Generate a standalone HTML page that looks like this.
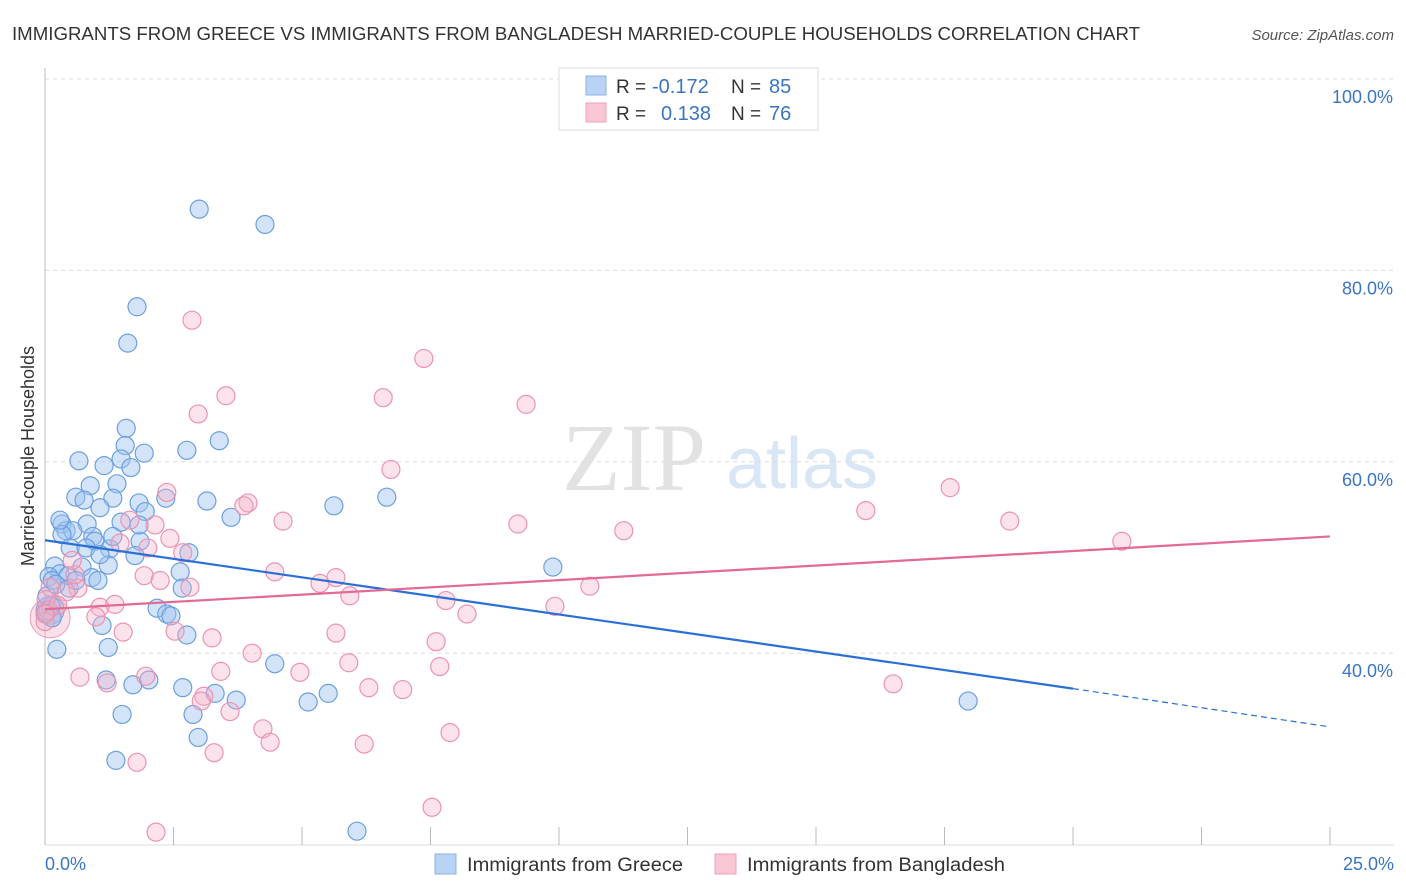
<!DOCTYPE html>
<html><head><meta charset="utf-8"><style>
body{margin:0;background:#fff;font-family:"Liberation Sans",sans-serif;}
#wrap{position:relative;width:1406px;height:892px;overflow:hidden}
</style></head><body>
<div id="wrap">
<svg id="svg" width="1406" height="892" xmlns="http://www.w3.org/2000/svg">
<text x="12" y="40" font-size="18" fill="#333" textLength="1128" lengthAdjust="spacingAndGlyphs">IMMIGRANTS FROM GREECE VS IMMIGRANTS FROM BANGLADESH MARRIED-COUPLE HOUSEHOLDS CORRELATION CHART</text>
<text x="1394" y="40" font-size="15" fill="#555" font-style="italic" text-anchor="end">Source: ZipAtlas.com</text>
<g>
<text x="634" y="490" font-size="96" fill="#e2e2e2" font-family="Liberation Serif" text-anchor="middle">ZIP</text>
<text x="802" y="488" font-size="72" fill="#d9e6f5" text-anchor="middle">atlas</text>
</g>
<g id="grid"></g>
<g id="pts"></g>
<g id="trend"></g>
<text x="34" y="456" font-size="18" fill="#333" transform="rotate(-90 34 456)" text-anchor="middle">Married-couple Households</text>
<text x="45" y="870" font-size="18" fill="#3a75c4">0.0%</text>
<text x="1394" y="870" font-size="18" fill="#3a75c4" text-anchor="end">25.0%</text>
<g>
<rect x="559" y="68" width="259" height="62" fill="#fff" stroke="#ddd"/>
<rect x="586" y="76" width="20" height="19" fill="#b8d3f4" stroke="#8ab0e0"/>
<rect x="586" y="103" width="20" height="19" fill="#f9c6d5" stroke="#eea3bb"/>
<text x="616" y="93" font-size="19" fill="#333">R =</text>
<text x="652" y="93" font-size="20" fill="#3a75c4">-0.172</text>
<text x="731" y="93" font-size="19" fill="#333">N =</text>
<text x="769" y="93" font-size="20" fill="#3a75c4">85</text>
<text x="616" y="120" font-size="19" fill="#333">R =</text>
<text x="661" y="120" font-size="20" fill="#3a75c4">0.138</text>
<text x="731" y="120" font-size="19" fill="#333">N =</text>
<text x="769" y="120" font-size="20" fill="#3a75c4">76</text>
</g>
<g>
<rect x="435" y="854" width="21" height="20" fill="#b8d3f4" stroke="#8ab0e0"/>
<text x="467" y="871" font-size="19" fill="#333" textLength="216" lengthAdjust="spacingAndGlyphs">Immigrants from Greece</text>
<rect x="715" y="854" width="21" height="20" fill="#f9c6d5" stroke="#eea3bb"/>
<text x="747" y="871" font-size="19" fill="#333" textLength="258" lengthAdjust="spacingAndGlyphs">Immigrants from Bangladesh</text>
</g>
</svg>
</div>
<script>
const yTicks=[40,60,80,100];
const yTickLabels=["40.0%","60.0%","80.0%","100.0%"];
const xTicks=[2.5,5,7.5,10,12.5,15,17.5,20,22.5,25];
const greeceX=[3.0,4.28,1.79,1.61,3.39,2.76,1.58,1.56,1.93,1.48,1.67,0.66,1.15,0.88,1.40,0.60,1.32,1.83,1.07,1.95,2.35,3.15,3.62,5.62,6.65,0.33,0.82,0.41,0.54,0.93,0.33,0.97,0.49,0.80,1.26,1.85,1.75,2.80,1.23,0.72,0.19,0.29,0.08,0.45,0.91,1.03,0.14,0.47,2.63,2.67,0.12,0.02,0.14,0.23,1.11,1.23,2.18,2.37,2.45,2.76,4.47,9.88,17.96,1.19,1.71,2.02,2.68,3.31,3.72,5.12,5.51,2.88,1.50,2.98,1.38,6.07,0.04,0.21,0.60,1.48,1.83,1.32,1.07,0.29,0.76];
const greeceY=[86.4,84.8,76.2,72.4,62.2,61.2,63.5,61.7,60.9,60.3,59.4,60.1,59.6,57.5,57.7,56.3,56.2,55.7,55.2,54.8,56.2,55.9,54.2,55.4,56.3,53.5,53.5,52.8,52.8,52.2,52.4,51.7,51.0,51.0,50.9,51.7,50.2,50.5,49.2,49.0,49.1,48.3,48.0,48.1,47.9,47.6,47.6,46.8,48.5,46.8,44.9,44.3,43.7,40.4,42.9,40.6,44.7,44.1,43.9,41.9,38.9,49.0,35.0,37.2,36.7,37.2,36.4,35.8,35.1,34.9,35.8,33.6,33.6,31.2,28.8,21.4,46.0,47.2,47.6,53.7,53.4,52.2,50.3,53.9,56.0];
const bangX=[2.86,7.37,3.52,2.98,6.58,9.36,6.73,2.37,3.95,3.87,1.65,4.63,2.14,9.20,11.26,15.97,17.61,18.77,20.95,2.43,2.00,1.46,2.68,4.47,5.35,5.66,5.93,7.80,8.21,9.92,10.60,1.93,2.24,2.82,0.10,0.64,0.41,0.02,0.06,0.25,1.07,1.36,0.99,0.0,1.52,2.53,3.25,5.66,7.61,4.03,5.91,7.68,4.96,3.42,1.96,0.68,1.21,3.09,3.60,6.30,6.96,4.24,4.38,7.88,6.21,3.29,1.79,2.16,7.53,16.50,0.0,0.58,0.53,3.04];
const bangY=[74.8,70.8,66.9,65.0,66.7,66.0,59.2,56.8,55.7,55.4,53.9,53.8,53.4,53.5,52.8,54.9,57.3,53.8,51.7,52.0,51.0,51.5,50.5,48.5,47.3,47.9,46.0,45.5,44.1,44.9,47.0,48.1,47.6,46.9,46.9,46.8,46.4,45.6,44.5,45.0,44.8,45.1,43.8,43.3,42.2,42.3,41.6,42.1,41.2,40.0,39.0,38.6,38.0,38.1,37.6,37.5,36.9,35.5,33.9,36.4,36.2,32.1,30.7,31.7,30.5,29.6,28.6,21.3,23.9,36.8,44.1,48.2,49.7,35.0];
const greeceTrend=[[0,51.8],[20,36.3],[25,32.3]];
const bangTrend=[[0,44.6],[25,52.2]];
const NS="http://www.w3.org/2000/svg";
const X=v=>45+v*(1285/25);
const Y=v=>1036-v*9.57;
function mk(tag,attrs,parent){const e=document.createElementNS(NS,tag);for(const k in attrs)e.setAttribute(k,attrs[k]);parent.appendChild(e);return e;}
const grid=document.getElementById('grid');
yTicks.forEach((t,i)=>{
  const l=mk('line',{x1:45,x2:1394,y1:Y(t),y2:Y(t),stroke:'#ddd','stroke-dasharray':'4,4'},grid);
  
  
  const tx=mk('text',{x:1393,y:Y(t)+24,'font-size':18,fill:'#3a75c4','text-anchor':'end'},grid);
  tx.textContent=yTickLabels[i];
  
  
});
const ax=mk('line',{x1:45,x2:45,y1:68,y2:845,stroke:'#bbb'},grid);


const bx=mk('line',{x1:45,x2:1394,y1:845,y2:845,stroke:'#ddd'},grid);


xTicks.forEach(t=>{
  const l=mk('line',{x1:X(t),x2:X(t),y1:827,y2:845,stroke:'#bbb'},grid);
  
  
});
const pts=document.getElementById('pts');
function dots(xs,ys,fill,stroke,name){
  xs.forEach((x,i)=>{
    const c=mk('circle',{cx:X(x),cy:Y(ys[i]),r:9,fill:fill,stroke:stroke,'stroke-width':1.2},pts);
    
    
  });
}
const bigP=mk('circle',{cx:X(0.1),cy:Y(43.7),r:20,fill:'rgba(245,170,195,0.35)',stroke:'#ee9bb6'},pts);


const bigB=mk('circle',{cx:X(0.1),cy:Y(44.5),r:14,fill:'rgba(150,170,230,0.45)',stroke:'#7f9ed8'},pts);


dots(greeceX,greeceY,'rgba(160,196,240,0.45)','#6c9fe0','greece-point');
dots(bangX,bangY,'rgba(246,175,198,0.35)','#ec93b0','bangladesh-point');
const tr=document.getElementById('trend');
const g1=mk('line',{x1:X(greeceTrend[0][0]),y1:Y(greeceTrend[0][1]),x2:X(greeceTrend[1][0]),y2:Y(greeceTrend[1][1]),stroke:'#2a6fd6','stroke-width':2.2},tr);


const g2=mk('line',{x1:X(greeceTrend[1][0]),y1:Y(greeceTrend[1][1]),x2:X(greeceTrend[2][0]),y2:Y(greeceTrend[2][1]),stroke:'#2a6fd6','stroke-width':1.2,'stroke-dasharray':'6,4'},tr);


const p1=mk('line',{x1:X(bangTrend[0][0]),y1:Y(bangTrend[0][1]),x2:X(bangTrend[1][0]),y2:Y(bangTrend[1][1]),stroke:'#e26a95','stroke-width':2.2},tr);


</script>
</body></html>
